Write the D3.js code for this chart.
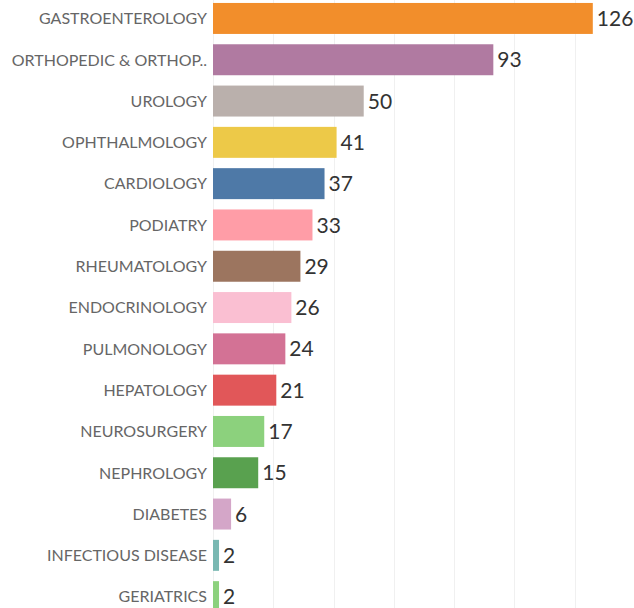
<!DOCTYPE html>
<html>
<head>
<meta charset="utf-8">
<script src="https://cdn.jsdelivr.net/npm/d3@7"></script>
<style>
  html, body { margin: 0; padding: 0; background: #fff; overflow: hidden; }
  svg { display: block; }
</style>
</head>
<body>
<svg id="chart"></svg>
<script>
const width = 634;
const height = 608;

const specialties = [
  "GASTROENTEROLOGY", "ORTHOPEDIC & ORTHOP..", "UROLOGY", "OPHTHALMOLOGY",
  "CARDIOLOGY", "PODIATRY", "RHEUMATOLOGY", "ENDOCRINOLOGY", "PULMONOLOGY",
  "HEPATOLOGY", "NEUROSURGERY", "NEPHROLOGY", "DIABETES",
  "INFECTIOUS DISEASE", "GERIATRICS"
];
const counts = [126, 93, 50, 41, 37, 33, 29, 26, 24, 21, 17, 15, 6, 2, 2];
const colors = [
  "#f28e2b", "#b07aa1", "#bab0ac", "#edc948", "#4e79a7", "#ff9da7",
  "#9c755f", "#fabfd2", "#d37295", "#e15759", "#8cd17d", "#59a14f",
  "#d4a6c8", "#79b8b2", "#8cd17d"
];
const gridTicks = [0, 20, 40, 60, 80, 100, 120];

const data = specialties.map((s, i) => ({ name: s, value: counts[i], color: colors[i] }));

const svg = d3.select("#chart")
  .attr("width", width)
  .attr("height", height);

const x = d3.scaleLinear()
  .domain([0, 140])
  .range([213, 635]);

const y = d3.scaleBand()
  .domain(specialties)
  .range([-2.2, 617.3])
  .paddingInner(0.25)
  .paddingOuter(0.125);

// vertical gridlines
svg.append("g")
  .selectAll("line")
  .data(gridTicks)
  .join("line")
  .attr("x1", d => Math.round(x(d)) + 0.5)
  .attr("x2", d => Math.round(x(d)) + 0.5)
  .attr("y1", 0)
  .attr("y2", height)
  .attr("stroke", "#f0f0f0")
  .attr("stroke-width", 1);

// bars
svg.append("g")
  .selectAll("rect")
  .data(data)
  .join("rect")
  .attr("x", x(0))
  .attr("y", d => y(d.name))
  .attr("width", d => x(d.value) - x(0))
  .attr("height", y.bandwidth())
  .attr("fill", d => d.color);

// category labels
svg.append("g")
  .selectAll("text")
  .data(data)
  .join("text")
  .attr("x", x(0) - 6)
  .attr("y", d => y(d.name) + y.bandwidth() / 2)
  .attr("dy", "0.36em")
  .attr("text-anchor", "end")
  .attr("font-family", "Lato, 'Open Sans', sans-serif")
  .attr("font-size", 16)
  .attr("fill", "#666")
  .text(d => d.name);

// value labels
svg.append("g")
  .selectAll("text")
  .data(data)
  .join("text")
  .attr("x", d => x(d.value) + 4)
  .attr("y", d => y(d.name) + y.bandwidth() / 2)
  .attr("dy", "0.36em")
  .attr("font-family", "Lato, 'Open Sans', sans-serif")
  .attr("font-size", 21)
  .attr("fill", "#333")
  .text(d => d.value);
</script>
</body>
</html>
